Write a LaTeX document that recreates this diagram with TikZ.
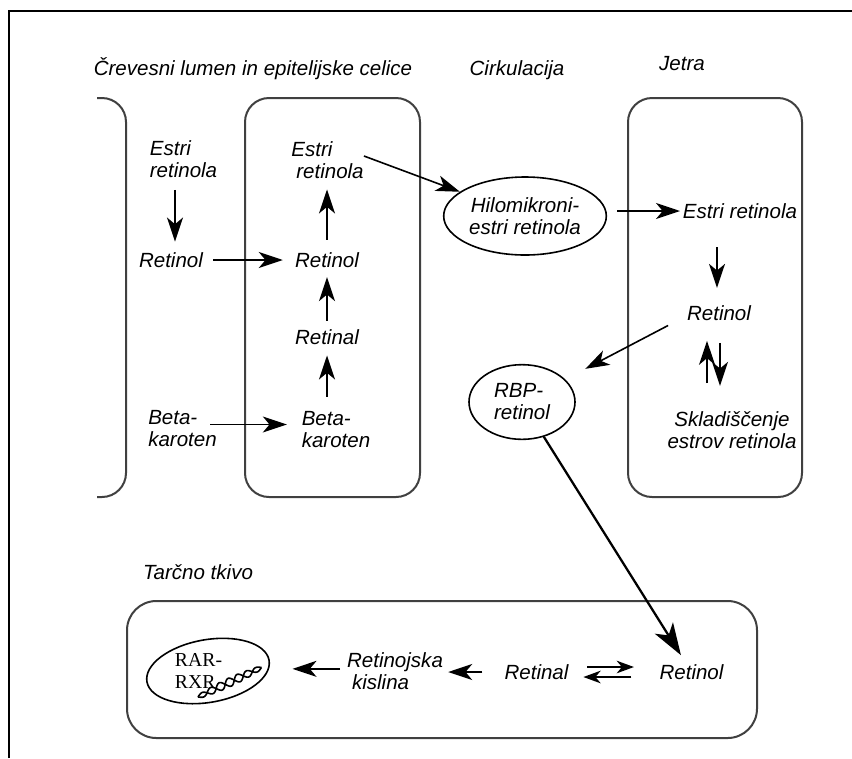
\documentclass[tikz,border=0pt]{standalone}
\usepackage{fontspec}
\setmainfont{Liberation Sans}
\newfontfamily\serifrm{Liberation Serif}
\usetikzlibrary{arrows.meta,shapes.geometric}
\begin{document}
\begin{tikzpicture}[x=0.75pt,y=-0.75pt,
  lbl/.style={inner sep=0pt, font=\fontsize{15.4}{16.5}\selectfont\itshape},
  lbll/.style={lbl, align=left},
  lblc/.style={lbl, align=center},
  boxline/.style={draw=black!75, line width=1.5pt, rounded corners=18pt},
  arr/.style={-{Stealth[length=18pt,width=12pt,inset=5pt]}, line width=1.2pt},
  bigarr/.style={-{Stealth[length=24pt,width=16pt,inset=6.5pt]}, line width=1.7pt},
  smallarr/.style={-{Stealth[length=13pt,width=9.5pt,inset=4pt]}, line width=1.2pt},
  oval/.style={ellipse, draw, line width=1.2pt, inner sep=0pt}
]
\useasboundingbox (0,0) rectangle (852,758);
% frame
\draw[line width=1.5pt] (9,758) -- (9,11) -- (852,11);
% containers
\draw[boxline] (97,98) -- (126,98) -- (126,497) -- (97,497);
\draw[boxline] (245,98) rectangle (420,497);
\draw[boxline] (628,98) rectangle (802,497);
\draw[boxline, rounded corners=22pt] (127,601) rectangle (757,738);
% titles
\node[lbl] (t1) at (253,69) {Črevesni lumen in epitelijske celice};
\node[lbl] (t2) at (517,70) {Cirkulacija};
\node[lbl] (t3) at (682,64) {Jetra};
\node[lbl] (t4) at (198,572) {Tarčno tkivo};
% lumen
\node[lbll] (lumEstri) at (183.5,159) {Estri\\retinola};
\node[lbl] (lumRet) at (171,260) {Retinol};
\node[lbll] (lumBeta) at (182.5,429) {Beta-\\karoten};
% epithelium
\node[lbll] (epEstri) at (327.5,160) {Estri\\\hspace*{3.75pt}retinola};
\node[lbl] (epRet) at (327,260) {Retinol};
\node[lbl] (epRetinal) at (327,337) {Retinal};
\node[lbll] (epBeta) at (336,430) {Beta-\\karoten};
% circulation
\node[oval, lblc, minimum width=122pt, minimum height=58.5pt] (hilo) at (525,216) {Hilomikroni-\\estri retinola};
\node[oval, lbll, minimum width=79.5pt, minimum height=56pt] (rbp) at (522,402) {RBP-\\retinol};
% liver
\node[lbl] (livEstri) at (740,211) {Estri retinola};
\node[lbl] (livRet) at (719,313) {Retinol};
\node[lblc] (livSklad) at (732,430) {Skladiščenje\\estrov retinola};
% target tissue
\node[lbl] (botRetinol) at (691.5,672) {Retinol};
\node[lbl] (botRetinal) at (536.5,672) {Retinal};
\node[lbll] (kislina) at (395,671.5) {Retinojska\\\hspace*{3.75pt}kislina};
\node[oval, minimum width=93pt, minimum height=47pt, rotate=10] (rar) at (208,671) {};
\node[inner sep=0pt, align=left, font=\fontsize{14.8}{16.5}\selectfont\serifrm] (rartext) at (198.5,671) {RAR-\\RXR};
\begin{scope}[shift={(198,697)}, rotate=25, line width=1.2pt]
  \draw plot[domain=0:70, samples=90, smooth] (\x,{(1.8+2.4*sin(\x*180/70))*sin(18*\x)});
  \draw plot[domain=0:70, samples=90, smooth] (\x,{-(1.8+2.4*sin(\x*180/70))*sin(18*\x)});
\end{scope}
% arrows
\draw[arr, shorten <=9pt, shorten >=8pt] ([xshift=3pt]lumRet.north |- lumEstri.south) -- ([xshift=3pt]lumRet.north);
\draw[arr, shorten <=7.5pt, shorten >=9pt] (lumRet.east) -- (lumRet.east -| epRet.west);
\draw[arr, shorten <=-5pt, shorten >=11pt] ([yshift=3.4pt]lumBeta.east) -- ([yshift=3.4pt]lumBeta.east -| epBeta.west);
\draw[arr, shorten <=9.5pt, shorten >=8pt] (epRet.north) -- (epRet.north |- epEstri.south);
\draw[arr, shorten <=6.5pt, shorten >=7pt] (epRetinal.north) -- (epRetinal.north |- epRet.south);
\draw[arr, shorten <=11pt, shorten >=8pt] (epRetinal.south |- epBeta.north) -- (epRetinal.south);
\draw[arr] ([yshift=3pt]epEstri.east) -- (hilo);
\draw[arr, shorten <=7.5pt, shorten >=2pt] (livEstri.west -| hilo.east) -- (livEstri.west);
\draw[arr, shorten <=21.5pt, shorten >=13pt] ([xshift=-1.5pt]livRet.north |- livEstri.south) -- ([xshift=-1.5pt]livRet.north);
\draw[arr, shorten >=17pt] ([xshift=-14pt,yshift=-3.5pt]livRet.south west) -- (rbp);
\draw[arr, shorten <=21pt, shorten >=15pt] ([xshift=-9pt]livRet.south |- livSklad.north) -- ([xshift=-9pt]livRet.south);
\draw[arr, shorten <=16.5pt, shorten >=19pt] ([xshift=0.75pt]livRet.south) -- ([xshift=0.75pt]livRet.south |- livSklad.north);
\draw[bigarr, shorten >=8pt] (rbp) -- (botRetinol);
\draw[smallarr, shorten <=14pt, shorten >=19pt] ([yshift=3.75pt]botRetinal.east) -- ([yshift=3.75pt]botRetinol.west);
\draw[smallarr, shorten <=21pt, shorten >=11pt] ([yshift=-3.75pt]botRetinol.west) -- ([yshift=-3.75pt]botRetinal.east);
\draw[arr, shorten <=16.5pt, shorten >=3.75pt] (botRetinal.west) -- (botRetinal.west -| kislina.east);
\draw[arr, shorten <=5pt, shorten >=17pt] ([yshift=2pt]kislina.west) -- ([yshift=2pt]kislina.west -| rar.east);
\end{tikzpicture}
\end{document}
